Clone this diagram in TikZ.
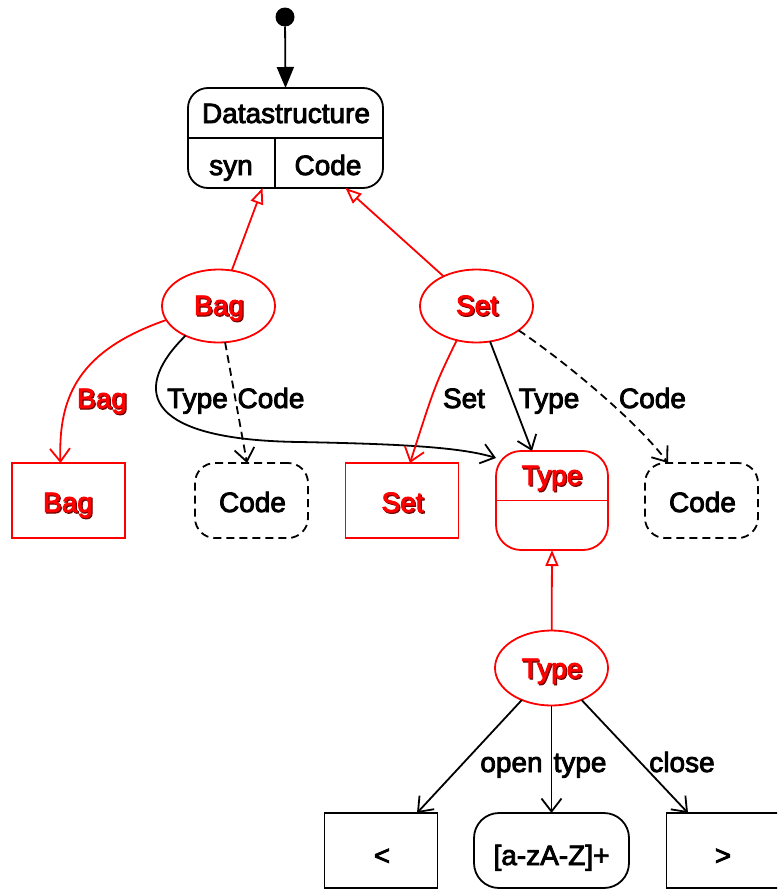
\documentclass[tikz,border=0pt]{standalone}
\usepackage{fontspec}
\setmainfont{Liberation Sans}[FakeBold=3]
\usetikzlibrary{arrows.meta,shapes.geometric,calc}
\definecolor{shadowred}{RGB}{110,0,0}
% red label with a dark drop shadow
\newcommand\redtext[1]{\rlap{\kern1.2pt\raisebox{-1.2pt}{\textcolor{shadowred}{#1}}}\textcolor{red}{#1}}
\tikzset{
  every node/.style={font=\fontsize{28}{33}\selectfont, inner sep=0pt, outer sep=0pt},
  lw/.style={line width=1.8pt},
  box/.style={draw, lw, rectangle, minimum width=113pt, minimum height=75pt},
  rbox/.style={box, rounded corners=20pt},
  dbox/.style={rbox, dash pattern=on 8pt off 5pt},
  ellstate/.style={draw=red, lw, ellipse, minimum width=113pt, minimum height=73pt},
  txt/.style={anchor=base},
  flow/.style={lw, -{Straight Barb[length=13pt,width=20pt]}},
  dflow/.style={flow, dash pattern=on 8pt off 5pt},
  gen/.style={lw, red, -{Triangle[open, length=16pt, width=13pt, fill=white]}},
}
\begin{document}
\begin{tikzpicture}[x=1pt, y=-1pt]
\useasboundingbox (0,0) rectangle (777,889);
\fill[white] (0,0) rectangle (777,889);
\clip (0,0) rectangle (777,889);

% initial state and the Datastructure state
\node[circle, fill, minimum size=19pt] (init) at (285,17) {};
\node[draw, lw, rounded corners=20pt, minimum width=195pt, minimum height=100pt] (ds) at (285.5,138) {};
\draw[lw] (ds.west) -- (ds.east);
\draw[lw] ([xshift=-10.5pt]ds.center) -- ([xshift=-10.5pt]ds.south);
\node[txt] (ds-name) at (286,123) {Datastructure};
\node[txt] (ds-syn) at (231,175) {syn};
\node[txt] (ds-code) at (328,175) {Code};

% Bag and Set alternatives
\node[ellstate] (bag) at (218.5,306) {};
\node[txt] (bag-name) at (219,315) {\redtext{Bag}};
\node[ellstate] (set) at (476.5,306) {};
\node[txt] (set-name) at (477,315) {\redtext{Set}};

% second row
\node[box, draw=red] (bagbox) at (68.5,500.5) {};
\node[txt] (bagbox-name) at (68,512) {\redtext{Bag}};
\node[dbox] (code1) at (251.5,500.5) {};
\node[txt] (code1-name) at (252.5,512) {Code};
\node[box, draw=red] (setbox) at (402,500.5) {};
\node[txt] (setbox-name) at (402.5,512) {\redtext{Set}};
\node[rbox, draw=red, minimum width=112pt, minimum height=99pt, rounded corners=25pt] (typebox) at (552,500.5) {};
\draw[red, lw] (typebox.west) -- (typebox.east);
\node[txt] (typebox-name) at (552,485) {\redtext{Type}};
\node[dbox] (code2) at (701.5,500.5) {};
\node[txt] (code2-name) at (702.5,512) {Code};

% Type definition
\node[ellstate, minimum height=75pt] (typeell) at (551.5,668) {};
\node[txt] (typeell-name) at (552,678) {\redtext{Type}};
\node[box] (lt) at (381,850.5) {};
\node[txt] (lt-name) at (382,865) {<};
\node[rbox, minimum width=155pt, rounded corners=25pt] (regex) at (551.5,850.5) {};
\node[txt] (regex-name) at (551.5,865) {[a-zA-Z]+};
\node[box] (gt) at (723,850.5) {};
\node[txt] (gt-name) at (723,865) {>};

% connectors
\draw[lw, -{Triangle[length=21pt,width=17pt]}] (init) -- (ds.north);
\draw[gen] (bag) -- ([xshift=-23pt]ds.south);
\draw[gen] (set) -- ([xshift=60pt]ds.south);

\draw[flow, red] (bag.195) .. controls (80,350) and (58,395) .. ([xshift=-8pt]bagbox.north);
\node[txt] (lbl-bag) at (102,408) {\redtext{Bag}};
\draw[flow] (bag.222) .. controls (135,385) and (135,440) .. (300,442)
  .. controls (400,444) and (460,447) .. ([yshift=-7pt]typebox.north west);
\node[txt] (lbl-type1) at (197.5,408) {Type};
\draw[dflow] (bag) -- ([xshift=-4.5pt]code1.north);
\node[txt] (lbl-code1) at (271,408) {Code};

\draw[flow, red] (set.240) .. controls (435,385) .. ([xshift=8pt]setbox.north);
\node[txt] (lbl-set) at (464,408) {Set};
\draw[flow] (set) -- ([xshift=-20pt]typebox.north);
\node[txt] (lbl-type2) at (549,408) {Type};
\draw[dflow] (set.330) .. controls (570,365) and (640,425) .. ([xshift=-33.5pt]code2.north);
\node[txt] (lbl-code2) at (652.5,408) {Code};

\draw[gen] (typeell) -- (typebox.south);
\draw[flow] (typeell) -- ([xshift=36pt]lt.north);
\draw[flow] (typeell) -- (regex.north);
\draw[flow] (typeell) -- ([xshift=-35pt]gt.north);
\node[txt] (lbl-open) at (511.5,772) {open};
\node[txt] (lbl-type3) at (580,772) {type};
\node[txt] (lbl-close) at (682,772) {close};
\end{tikzpicture}
\end{document}
